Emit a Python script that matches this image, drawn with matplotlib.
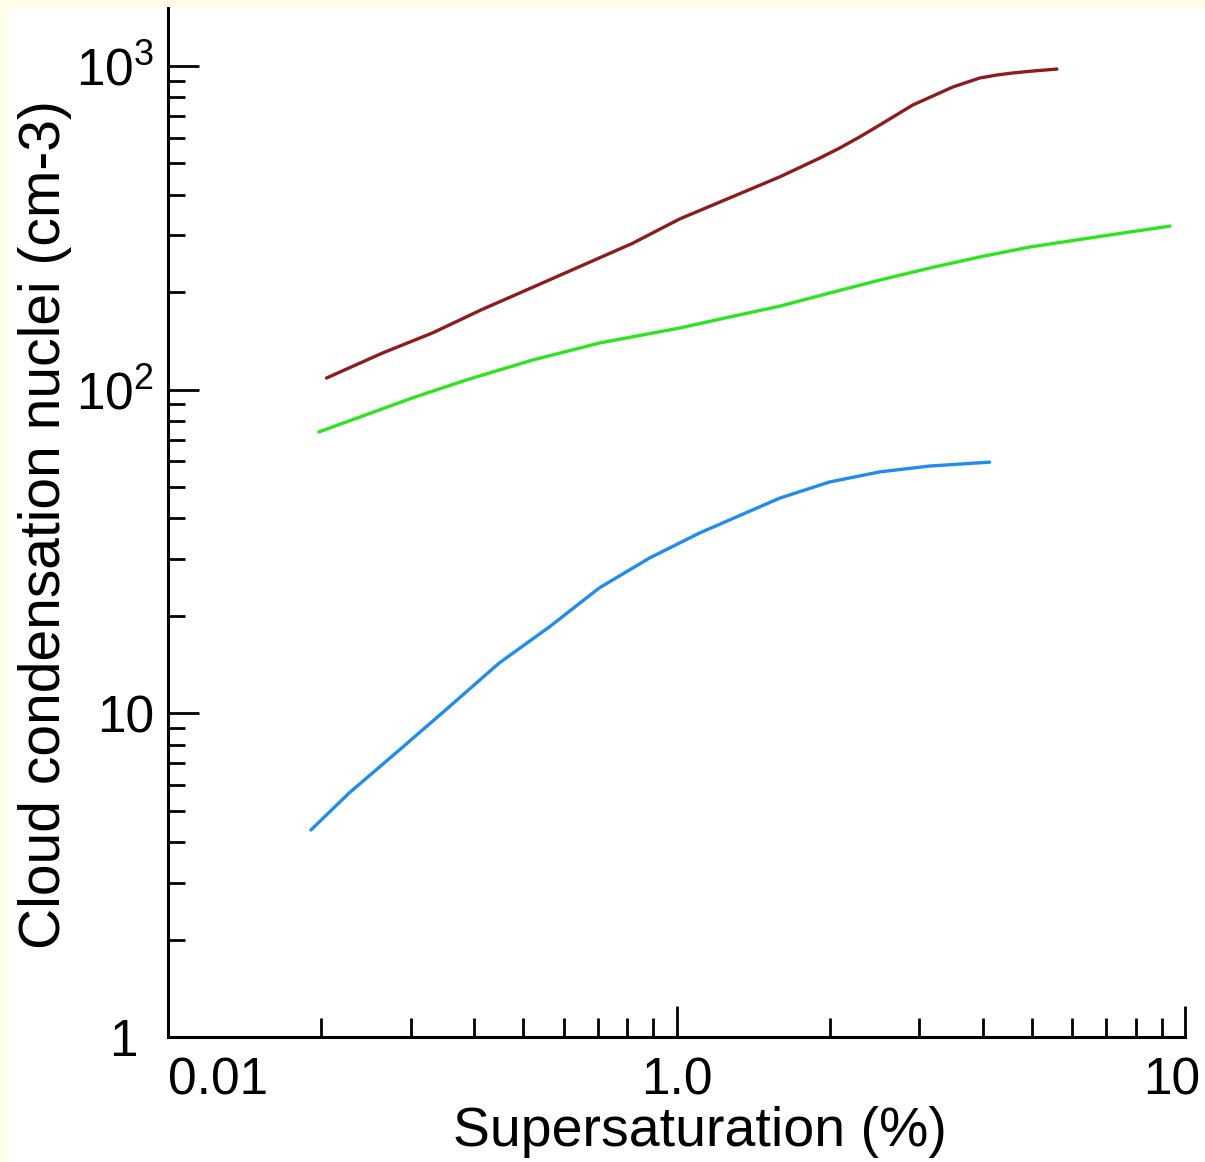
import matplotlib
matplotlib.use("Agg")
import matplotlib.pyplot as plt
import matplotlib.transforms as mtransforms
from matplotlib.patches import Rectangle

plt.rcParams['font.family'] = ['Liberation Sans', 'DejaVu Sans']
plt.rcParams['mathtext.fontset'] = 'custom'
plt.rcParams['mathtext.rm'] = 'Liberation Sans'

# supersaturation (%) vs CCN concentration (cm-3)
ss_brown = [0.205, 0.264, 0.331, 0.415, 0.521, 0.653, 0.819, 1.014, 1.271, 1.595,
            1.912, 2.094, 2.29, 2.51, 2.914, 3.494, 3.95, 4.265, 4.58, 5.022, 5.60]
ccn_brown = [108.6, 129.7, 149.6, 177, 207, 242, 283, 336.6, 390.8, 454,
             519, 557.7, 603, 656.8, 757.2, 860.7, 918, 937.4, 951, 964.5, 978]

ss_green = [0.198, 0.302, 0.386, 0.521, 0.705, 1.014, 1.271, 1.595, 2.0, 2.51,
            3.148, 3.95, 4.954, 6.21, 7.79, 9.34]
ccn_green = [74.0, 94.2, 107.1, 123.4, 139.3, 155, 167.6, 181, 198.8, 218,
             237.5, 257, 275.8, 291, 306.9, 320]

ss_blue = [0.191, 0.227, 0.285, 0.357, 0.448, 0.562, 0.705, 0.885, 1.11, 1.271,
           1.595, 2.0, 2.51, 3.148, 4.13]
ccn_blue = [4.36, 5.67, 7.70, 10.46, 14.3, 18.48, 24.4, 30.18, 36.06, 39.56,
            46.2, 51.84, 55.7, 58.07, 59.7]

x_ticks = [0.1, 1.0, 10]
x_ticklabels = ['0.01', '1.0', '10']
y_ticks = [1, 10, 100, 1000]
y_ticklabels = ['1', '10', r'$\mathregular{10^2}$', r'$\mathregular{10^3}$']

W, H = 1205, 1162
fig = plt.figure(figsize=(W / 100, H / 100), dpi=100, facecolor='#FFFDE4')
# white panel inside the cream border (top and left)
fig.add_artist(Rectangle((8 / W, 0), 1, 1 - 7 / H, transform=fig.transFigure,
                         facecolor='white', edgecolor='none', zorder=-10))

left, right, bottom, top = 168, 1185, 1037, 8
ax = fig.add_axes([left / W, (H - bottom) / H, (right - left) / W, (bottom - top) / H])
ax.set_zorder(5)
ax.set_facecolor('none')

ax.plot(ss_brown, ccn_brown, color='#8E1C1E', lw=2.4, solid_capstyle='round', solid_joinstyle='round')
ax.plot(ss_green, ccn_green, color='#2BE61E', lw=2.4, solid_capstyle='round', solid_joinstyle='round')
ax.plot(ss_blue, ccn_blue, color='#1F8CF0', lw=2.4, solid_capstyle='round', solid_joinstyle='round')

ax.set_xscale('log')
ax.set_yscale('log')
ax.set_xlim(0.1, 10)
ax.set_ylim(1, 10 ** 3.179)

for s in ['top', 'right']:
    ax.spines[s].set_visible(False)
for s in ['left', 'bottom']:
    ax.spines[s].set_linewidth(2.2)

ax.set_xticks(x_ticks)
ax.set_xticklabels(x_ticklabels)
ax.set_yticks(y_ticks)
ax.set_yticklabels(y_ticklabels)

ax.tick_params(axis='both', which='both', direction='in', width=2.0, labelsize=37)
ax.tick_params(axis='x', which='major', length=22, pad=14)
ax.tick_params(axis='x', which='minor', length=14)
ax.tick_params(axis='y', which='major', length=22, pad=10)
ax.tick_params(axis='y', which='minor', length=12)
ax.xaxis.set_minor_formatter(matplotlib.ticker.NullFormatter())
ax.yaxis.set_minor_formatter(matplotlib.ticker.NullFormatter())

xlabels = ax.get_xticklabels()
xlabels[0].set_horizontalalignment('left')
xlabels[-1].set_transform(xlabels[-1].get_transform() +
                          mtransforms.ScaledTranslation(-13 / 100, 0, fig.dpi_scale_trans))
ylabels = ax.get_yticklabels()
ylabels[0].set_transform(ylabels[0].get_transform() +
                         mtransforms.ScaledTranslation(-16 / 100, 0, fig.dpi_scale_trans))

ax.set_xlabel('Supersaturation (%)', fontsize=40)
ax.xaxis.set_label_coords(0.523, -0.092)
ax.xaxis.label.set_va('center')
ax.set_ylabel('Cloud condensation nuclei (cm-3)', fontsize=41)
ax.yaxis.set_label_coords(-0.121, 0.4976)
ax.yaxis.label.set_va('center')

fig.savefig('out.png', dpi=100, facecolor=fig.get_facecolor())
